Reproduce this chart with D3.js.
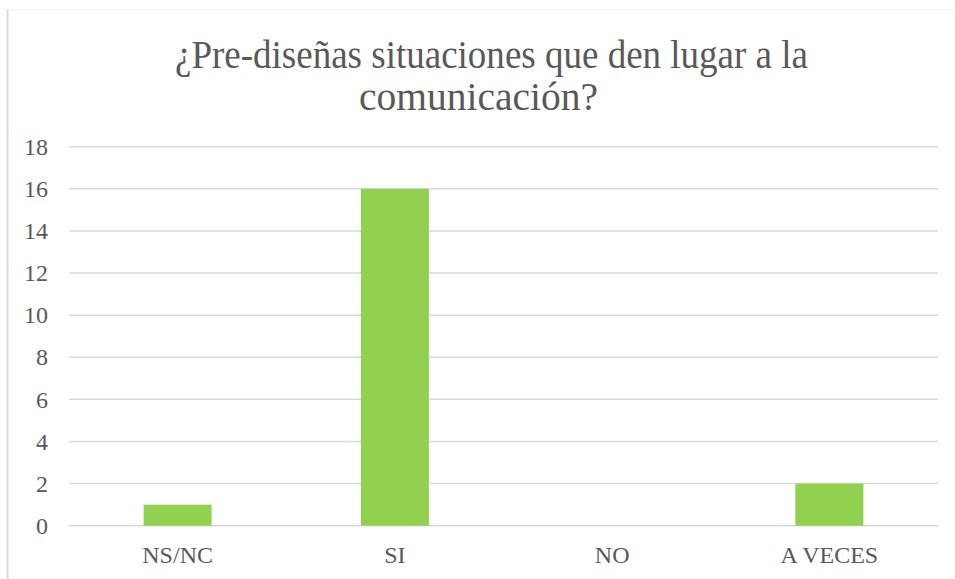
<!DOCTYPE html>
<html>
<head>
<meta charset="utf-8">
<script src="https://cdn.jsdelivr.net/npm/d3@7"></script>
<style>
  html, body { margin: 0; padding: 0; background: #ffffff; }
  svg { display: block; }
</style>
</head>
<body>
<div id="chart"></div>
<script>
// Survey answers and counts
const categories = ["NS/NC", "SI", "NO", "A VECES"];
const values = [1, 16, 0, 2];
const yTicks = [0, 2, 4, 6, 8, 10, 12, 14, 16, 18];
const titleLines = ["¿Pre-diseñas situaciones que den lugar a la", "comunicación?"];

const W = 955, H = 579;
const margin = { left: 69, right: 17, top: 146.7, bottom: 53.3 };
const textColor = "#595959";
const gridColor = "#d9d9d9";
const barColor = "#92d050";
const serif = "\"Liberation Serif\", \"Times New Roman\", Tinos, serif";

const svg = d3.select("#chart").append("svg")
  .attr("width", W).attr("height", H);

// chart frame (left and top edges)
svg.append("line")
  .attr("x1", 7.5).attr("x2", 7.5).attr("y1", 9).attr("y2", H)
  .attr("stroke", gridColor).attr("stroke-width", 2);
svg.append("line")
  .attr("x1", 7.5).attr("x2", W).attr("y1", 9.5).attr("y2", 9.5)
  .attr("stroke", "#f2f2f2").attr("stroke-width", 1);

const x = d3.scaleBand()
  .domain(categories)
  .range([margin.left, W - margin.right])
  .paddingInner(0.687)
  .paddingOuter(0.3435);

const y = d3.scaleLinear()
  .domain([0, 18])
  .range([H - margin.bottom, margin.top]);

// horizontal gridlines
svg.append("g")
  .selectAll("line")
  .data(yTicks)
  .join("line")
  .attr("x1", margin.left)
  .attr("x2", W - margin.right)
  .attr("y1", d => y(d))
  .attr("y2", d => y(d))
  .attr("stroke", gridColor)
  .attr("stroke-width", 1.5);

// bars
svg.append("g")
  .selectAll("rect")
  .data(values)
  .join("rect")
  .attr("x", (d, i) => x(categories[i]))
  .attr("width", x.bandwidth())
  .attr("y", d => y(d))
  .attr("height", d => y(0) - y(d))
  .attr("fill", barColor);

// value axis
const yAxis = d3.axisLeft(y).tickValues(yTicks).tickSize(0).tickPadding(21);
const gy = svg.append("g")
  .attr("transform", `translate(${margin.left},0)`)
  .call(yAxis);
gy.select(".domain").remove();
gy.selectAll("text")
  .attr("fill", textColor)
  .style("font-family", serif)
  .style("font-size", "24px");

// category axis
const xAxis = d3.axisBottom(x).tickSize(0).tickPadding(20);
const gx = svg.append("g")
  .attr("transform", `translate(0,${y(0)})`)
  .call(xAxis);
gx.select(".domain").remove();
gx.selectAll("text")
  .attr("fill", textColor)
  .style("font-family", serif)
  .style("font-size", "24px");

// title, two centred lines
const titleLayout = [
  { cx: 491.5, baseline: 68, width: 633 },
  { cx: 478.5, baseline: 109.5, width: 239 }
];
svg.append("g")
  .selectAll("text")
  .data(titleLines)
  .join("text")
  .attr("x", (d, i) => titleLayout[i].cx)
  .attr("y", (d, i) => titleLayout[i].baseline)
  .attr("text-anchor", "middle")
  .attr("textLength", (d, i) => titleLayout[i].width)
  .attr("lengthAdjust", "spacingAndGlyphs")
  .attr("fill", textColor)
  .style("font-family", serif)
  .style("font-size", "41px")
  .text(d => d);
</script>
</body>
</html>
